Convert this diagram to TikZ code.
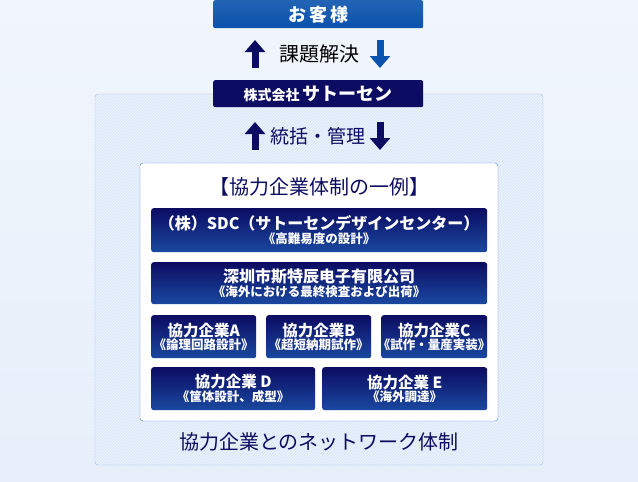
\documentclass[tikz,border=0pt]{standalone}
\usepackage{fontspec}
\newfontfamily\cjk{Noto Sans CJK JP}
\usetikzlibrary{patterns,arrows.meta}
\definecolor{navy}{HTML}{0C0C62}
\definecolor{navyb}{HTML}{1A48A0}
\definecolor{topblue}{HTML}{0A52AC}
\definecolor{panel}{HTML}{DCE8F8}
\definecolor{panelb}{HTML}{A8C4EC}
\definecolor{inb}{HTML}{5A86CC}
\tikzset{
  cbox/.style={rounded corners=2.5pt, top color=navy, bottom color=navyb, draw=none, inner sep=0},
  ctext/.style={text=white, align=center, font=\cjk\bfseries},
  uarrow/.style={-{Triangle[width=20pt,length=12pt]}, line width=7pt},
}
\newcommand{\mycb}[7]{%
  \node[cbox, minimum width={#3-#1}, minimum height={#4-#2}, anchor=north west] (#5) at (#1,#2) {};
  \node[ctext, font=\cjk\bfseries\fontsize{#7}{#7}\selectfont] at (#5) {#6};}
\newcommand{\sub}[1]{{\fontsize{12.5}{13}\selectfont #1}}
\begin{document}
\begin{tikzpicture}[x=1pt,y=-1pt]
\useasboundingbox (0,0) rectangle (638,482);
\shade[top color=white!60!panel, bottom color=panel!70] (0,0) rectangle (638,482);
\fill[rounded corners=3pt, panel] (95,94) rectangle (543,465);
\draw[rounded corners=3pt, panelb, pattern=north east lines, pattern color=white!70!panel] (95,94) rectangle (543,465);
% top box
\node[rounded corners=2pt, top color=topblue!90, bottom color=topblue, minimum width=210pt, minimum height=28pt, anchor=north west, inner sep=0] (cust) at (213,0) {};
\node[ctext, font=\cjk\bfseries\fontsize{18}{18}\selectfont] at (cust) {お\,客\,様};
\coordinate (u1a) at (255,68); \coordinate (u1b) at (255,40);
\coordinate (d1a) at (380,40); \coordinate (d1b) at (380,68);
\draw[uarrow, navy] (u1a) -- (u1b);
\draw[uarrow, topblue] (d1a) -- (d1b);
\node[font=\cjk\fontsize{20}{20}\selectfont, text=black] (t1) at (319,54) {課題解決};
% company
\node[rounded corners=2pt, fill=navy, minimum width=210pt, minimum height=27pt, anchor=north west, inner sep=0] (comp) at (213,80) {};
\node[ctext, font=\cjk\bfseries\fontsize{14}{14}\selectfont] at (comp) {株式会社\ \fontsize{18}{18}\selectfont サトーセン};
\coordinate (u2a) at (255,150); \coordinate (u2b) at (255,122);
\coordinate (d2a) at (380,122); \coordinate (d2b) at (380,150);
\draw[uarrow, navy] (u2a) -- (u2b);
\draw[uarrow, navy] (d2a) -- (d2b);
\node[font=\cjk\fontsize{19}{19}\selectfont, text=navy] (t2) at (318,136) {統括・管理};
% inner panel
\draw[rounded corners=3pt, inb, fill=white] (140,163) rectangle (498,421);
\node[font=\cjk\fontsize{20}{20}\selectfont, text=navy] (title) at (319,187) {【協力企業体制の一例】};
\mycb{151}{208}{487}{252}{s1}{（株）SDC（サトーセンデザインセンター）\\[-2pt]\sub{《高難易度の設計》}}{16}
\mycb{151}{262}{487}{304}{s2}{深圳市斯特辰电子有限公司\\[-2pt]\sub{《海外における最終検査および出荷》}}{16}
\mycb{151}{315}{256}{358}{a}{協力企業A\\[-2pt]\sub{《論理回路設計》}}{15.5}
\mycb{266}{315}{371}{358}{b}{協力企業B\\[-2pt]\sub{《超短納期試作》}}{15.5}
\mycb{381}{315}{487}{358}{c}{協力企業C\\[-2pt]\sub{《試作・量産実装》}}{15.5}
\mycb{151}{367}{315}{410}{d}{協力企業 D\\[-2pt]\sub{《筐体設計、成型》}}{15.5}
\mycb{322}{367}{487}{410}{e}{協力企業 E\\[-2pt]\sub{《海外調達》}}{15.5}
\node[font=\cjk\fontsize{20}{20}\selectfont, text=navy] (net) at (319,442) {協力企業とのネットワーク体制};
\end{tikzpicture}
\end{document}
